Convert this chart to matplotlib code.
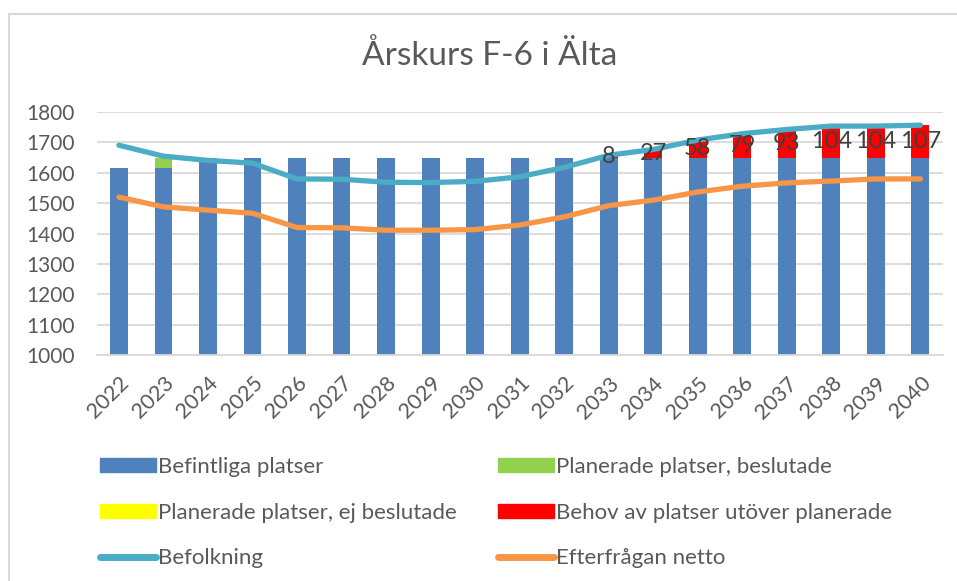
import matplotlib.pyplot as plt
from matplotlib.patches import Patch, Rectangle
from matplotlib.lines import Line2D
import numpy as np

plt.rcParams['font.family'] = ['Lato', 'DejaVu Sans']

years = [str(y) for y in range(2022, 2041)]
befintliga = [1615, 1615, 1650, 1650, 1650, 1650, 1650, 1650, 1650, 1650,
              1650, 1650, 1650, 1650, 1650, 1650, 1650, 1650, 1650]
planerade_beslutade = [0, 35, 0, 0, 0, 0, 0, 0, 0, 0,
                       0, 0, 0, 0, 0, 0, 0, 0, 0]
planerade_ej = [0] * 19
behov = [0, 0, 0, 0, 0, 0, 0, 0, 0, 0,
         0, 8, 27, 58, 79, 93, 104, 104, 107]
befolkning = [1691, 1655, 1641, 1632, 1580, 1579, 1569, 1568, 1572, 1587,
              1618, 1658, 1677, 1708, 1729, 1743, 1754, 1754, 1757]
efterfragan = [1520, 1488, 1477, 1467, 1420, 1419, 1411, 1411, 1413, 1428,
               1455, 1492, 1510, 1537, 1556, 1567, 1573, 1580, 1580]

c_blue = '#4f81bd'
c_green = '#92d050'
c_yellow = '#ffff00'
c_red = '#ff0000'
c_pop = '#4bacc6'
c_dem = '#f79646'
txt = '#595959'

fig = plt.figure(figsize=(9.57, 5.81), dpi=100)
ax = fig.add_axes([0.101, 0.389, 0.884, 0.418])

x = np.arange(len(years))
w = 0.4
base = np.array(befintliga)
ax.bar(x, befintliga, w, color=c_blue, zorder=2)
ax.bar(x, planerade_beslutade, w, bottom=base, color=c_green, zorder=2)
base2 = base + np.array(planerade_beslutade)
ax.bar(x, planerade_ej, w, bottom=base2, color=c_yellow, zorder=2)
base3 = base2 + np.array(planerade_ej)
ax.bar(x, behov, w, bottom=base3, color=c_red, zorder=2)

ax.plot(x, befolkning, color=c_pop, lw=3.8, solid_joinstyle='round',
        solid_capstyle='round', zorder=3)
ax.plot(x, efterfragan, color=c_dem, lw=3.8, solid_joinstyle='round',
        solid_capstyle='round', zorder=3)

# data labels on the red segment
for i, v in enumerate(behov):
    if v > 0:
        ax.text(x[i], base3[i] + v / 2, str(v), ha='center', va='center',
                fontsize=17, color='#404040', zorder=4)

ax.set_xlim(-0.5, len(years) - 0.5)
ax.set_ylim(1000, 1800)
ax.set_yticks(range(1000, 1801, 100))
ax.yaxis.grid(True, color='#d9d9d9', lw=1.3, zorder=0)
ax.set_axisbelow(True)
for s in ['top', 'right', 'left']:
    ax.spines[s].set_visible(False)
ax.spines['bottom'].set_color('#d9d9d9')
ax.spines['bottom'].set_linewidth(1.3)
ax.tick_params(length=0, colors=txt, labelsize=15)
ax.tick_params(axis='y', pad=16)
ax.set_xticks(x)
ax.set_xticklabels(years, rotation=45, ha='right', rotation_mode='anchor')
ax.tick_params(axis='x', pad=13, labelsize=15.5)

fig.text(0.512, 0.905, 'Årskurs F-6 i Älta', ha='center', va='center',
         fontsize=24, color=txt)

handles = [
    Patch(color=c_blue, label='Befintliga platser'),
    Patch(color=c_yellow, label='Planerade platser, ej beslutade'),
    Line2D([0], [0], color=c_pop, lw=5, solid_capstyle='round', label='Befolkning'),
    Patch(color=c_green, label='Planerade platser, beslutade'),
    Patch(color=c_red, label='Behov av platser utöver planerade'),
    Line2D([0], [0], color=c_dem, lw=5, solid_capstyle='round', label='Efterfrågan netto'),
]
leg = fig.legend(handles=handles, ncol=2, loc='upper left',
                 bbox_to_anchor=(0.105, 0.213), frameon=False, fontsize=16,
                 handlelength=2.5, handleheight=0.6, handletextpad=0.1,
                 labelspacing=1.15, columnspacing=1.85, borderaxespad=0,
                 borderpad=0)
for t in leg.get_texts():
    t.set_color(txt)

fig.patches.append(Rectangle((9 / 957, -0.1), 1.2, 1 - 14 / 581 + 0.1,
                             transform=fig.transFigure, fill=False,
                             edgecolor='#d9d9d9', lw=1.5))

fig.savefig('out.png', dpi=100)
